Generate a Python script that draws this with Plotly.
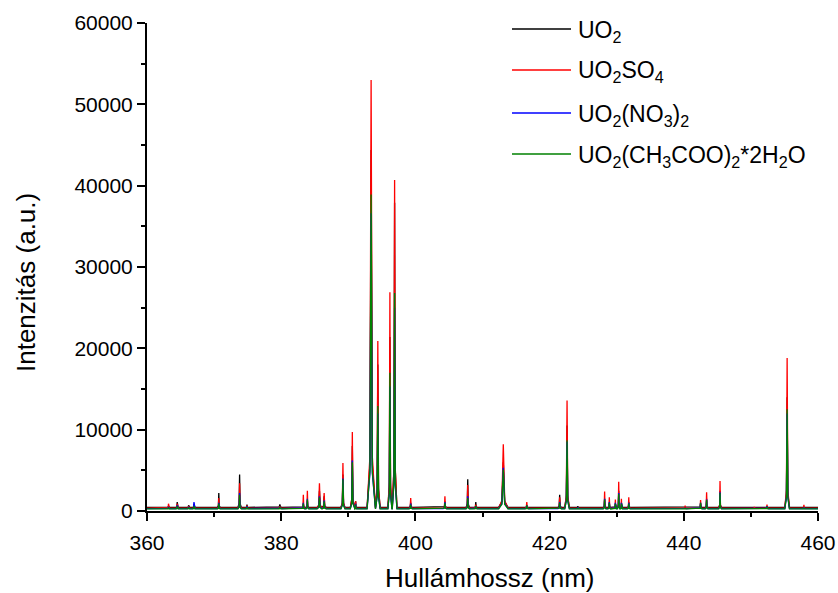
import plotly.graph_objects as go

# ---- data ----
series_names = ["UO<sub>2</sub>", "UO<sub>2</sub>SO<sub>4</sub>",
                "UO<sub>2</sub>(NO<sub>3</sub>)<sub>2</sub>",
                "UO<sub>2</sub>(CH<sub>3</sub>COO)<sub>2</sub>*2H<sub>2</sub>O"]
series_colors = ["#000000", "#ff0000", "#0000ff", "#008000"]

peak_nm = [363.2, 364.5, 366.2, 367.0, 370.7, 373.8, 374.9, 379.8, 383.3, 383.9,
           385.7, 386.4, 389.2, 390.6, 391.1, 393.4, 394.4, 396.2, 396.9, 399.3,
           404.4, 407.8, 409.0, 413.1, 416.6, 421.5, 422.6, 424.2, 428.2, 428.9,
           429.8, 430.3, 430.7, 431.8, 440.2, 442.5, 443.4, 445.4, 447.1, 450.5,
           452.4, 455.4, 457.9]
peak_w = [0.15, 0.15, 0.15, 0.15, 0.2, 0.25, 0.2, 0.3, 0.2, 0.2,
          0.35, 0.3, 0.3, 0.3, 0.12, 0.6, 0.35, 0.3, 0.35, 0.25,
          0.25, 0.25, 0.2, 0.7, 0.25, 0.25, 0.35, 0.2, 0.2, 0.2,
          0.15, 0.2, 0.15, 0.2, 0.2, 0.2, 0.2, 0.2, 0.15, 0.15,
          0.2, 0.35, 0.2]

h_uo2 = [600, 1100, 700, 900, 2200, 4500, 800, 800, 900, 1300,
         2500, 1800, 4500, 8000, 1200, 44400, 18000, 21400, 37900, 1000,
         1200, 3900, 1100, 6000, 700, 2000, 10500, 600, 1500, 1000,
         900, 2500, 1000, 1100, 450, 900, 1500, 2500, 500, 400,
         600, 14000, 500]
h_so4 = [900, 900, 600, 700, 1600, 3400, 700, 600, 2000, 2500,
         3400, 2200, 5900, 9700, 1200, 53000, 20900, 26900, 40700, 1600,
         1800, 3200, 800, 8200, 1100, 1700, 13600, 500, 2400, 1700,
         1400, 3600, 1500, 1700, 650, 1350, 2300, 3700, 400, 500,
         800, 18800, 750]
h_no3 = [500, 700, 500, 1100, 1000, 2200, 600, 500, 1000, 1500,
         1800, 1300, 4000, 6200, 900, 36600, 12000, 15300, 25000, 900,
         1100, 1800, 600, 5300, 700, 1100, 8500, 450, 1500, 1100,
         1000, 2200, 1000, 1000, 400, 1000, 1400, 2300, 350, 350,
         600, 12000, 450]
h_ac = [450, 600, 450, 600, 900, 2000, 500, 450, 900, 1400,
        1700, 1200, 3900, 6000, 800, 38900, 12900, 17000, 26800, 800,
        1000, 1600, 600, 5100, 700, 1000, 8700, 400, 1400, 1000,
        900, 2100, 900, 900, 350, 1000, 1350, 2200, 300, 300,
        550, 12500, 400]
heights = [h_uo2, h_so4, h_no3, h_ac]
baselines = [450, 350, 300, 250]

x_range = [360, 460]
y_range = [0, 60000]

# plot-area geometry in pixels
L, R, T, B = 147, 818, 23, 511
PW, PH = R - L, B - T


def px(xp):
    return (xp - L) / PW


def py(yp):
    return (B - yp) / PH


def build(hs, base):
    xs, ys = [x_range[0]], [base]
    for c, w, h in sorted(zip(peak_nm, peak_w, hs)):
        sh = base + 0.12 * (h - base)
        s = 0.3 * w
        xs += [c - w, c - s, c, c + s, c + w]
        ys += [base, sh, h, sh, base]
    xs.append(x_range[1])
    ys.append(base)
    return xs, ys


fig = go.Figure()
for name, col, hs, b in zip(series_names, series_colors, heights, baselines):
    xs, ys = build(hs, b)
    fig.add_trace(go.Scatter(x=xs, y=ys, mode="lines", name=name,
                             line=dict(color=col, width=1.3), showlegend=False))

FONT = "Liberation Sans, Arial, sans-serif"

# manual legend
leg_y = [29, 70, 113, 154]
for name, col, yy in zip(series_names, series_colors, leg_y):
    fig.add_shape(type="line", xref="paper", yref="paper",
                  x0=px(512), x1=px(571), y0=py(yy), y1=py(yy),
                  line=dict(color=col, width=1.3))
    fig.add_annotation(xref="paper", yref="paper", x=px(576), y=py(yy + 2),
                       text=name, showarrow=False,
                       xanchor="left", yanchor="middle",
                       font=dict(family=FONT, size=23, color="black"))

# axis titles
fig.add_annotation(xref="paper", yref="paper", x=px(490), y=py(578),
                   text="Hullámhossz (nm)", showarrow=False,
                   xanchor="center", yanchor="middle",
                   font=dict(family=FONT, size=26, color="black"))
fig.add_annotation(xref="paper", yref="paper", x=px(26), y=py(283),
                   text="Intenzitás (a.u.)", showarrow=False, textangle=-90,
                   xanchor="center", yanchor="middle",
                   font=dict(family=FONT, size=26, color="black"))

fig.update_layout(
    width=838, height=593,
    margin=dict(l=L, r=838 - R, t=T, b=593 - B),
    paper_bgcolor="white", plot_bgcolor="white",
    font=dict(family=FONT, size=21, color="black"),
    showlegend=False,
)
fig.update_xaxes(range=x_range, dtick=20, showline=True, linecolor="black",
                 linewidth=2, ticks="outside", ticklen=8, tickwidth=1.5,
                 tickcolor="black", showgrid=False, zeroline=False,
                 automargin=False, ticklabelstandoff=4,
                 minor=dict(dtick=10, ticks="outside", ticklen=4, tickwidth=1.5,
                            tickcolor="black", showgrid=False))
fig.update_yaxes(range=y_range, dtick=10000, showline=True, linecolor="black",
                 linewidth=2, ticks="outside", ticklen=8, tickwidth=1.5,
                 tickcolor="black", showgrid=False, zeroline=False,
                 automargin=False, tickformat="d",
                 minor=dict(dtick=5000, ticks="outside", ticklen=4, tickwidth=1.5,
                            tickcolor="black", showgrid=False))

fig.write_html("out.html")
